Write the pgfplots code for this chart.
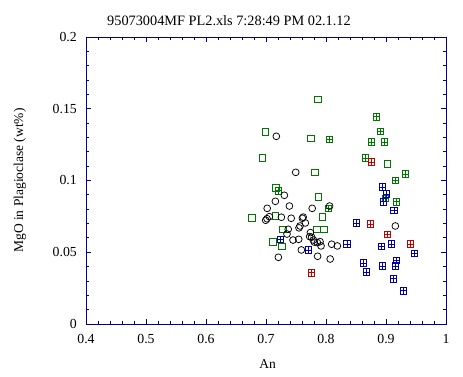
\documentclass[border=0pt]{standalone}
\usepackage{fontspec}
\setmainfont{Liberation Serif}
\usepackage{pgfplots}
\pgfplotsset{compat=1.18}
\definecolor{axblue}{RGB}{0,0,140}
\definecolor{mgreen}{RGB}{0,120,0}
\definecolor{mred}{RGB}{190,0,0}
\definecolor{mblue}{RGB}{0,0,170}
\pgfdeclareplotmark{boxplus}{%
  \pgfpathrectangle{\pgfqpoint{-\pgfplotmarksize}{-\pgfplotmarksize}}{\pgfqpoint{2\pgfplotmarksize}{2\pgfplotmarksize}}%
  \pgfpathmoveto{\pgfqpoint{-\pgfplotmarksize}{0pt}}\pgfpathlineto{\pgfqpoint{\pgfplotmarksize}{0pt}}%
  \pgfpathmoveto{\pgfqpoint{0pt}{-\pgfplotmarksize}}\pgfpathlineto{\pgfqpoint{0pt}{\pgfplotmarksize}}%
  \pgfusepathqstroke}
\begin{document}
\fontsize{13.5bp}{16bp}\selectfont
\begin{tikzpicture}
\begin{axis}[
  at={(0,0)}, anchor=south west,
  scale only axis, width=360bp, height=287bp,
  xmin=0.4, xmax=1, ymin=0, ymax=0.2,
  xtick={0.4,0.5,0.6,0.7,0.8,0.9,1},
  xticklabels={0.4,0.5,0.6,0.7,0.8,0.9,1},
  ytick={0,0.05,0.1,0.15,0.2},
  yticklabels={0,0.05,0.1,0.15,0.2},
  minor x tick num=4, minor y tick num=4,
  tick align=inside,
  major tick length=5bp, minor tick length=3bp,
  axis line style={axblue, line width=0.8bp},
  every tick/.style={axblue, line width=0.8bp},
  xtick pos=both, ytick pos=both,
  xticklabel pos=lower, yticklabel pos=left,
  /pgf/number format/assume math mode=true,
  xticklabel style={anchor=base, yshift=-19bp, font=\fontsize{13.8bp}{16bp}\selectfont},
  yticklabel style={anchor=east, xshift=-4.5bp, font=\fontsize{13.8bp}{16bp}\selectfont},
  clip=false,
]
\addplot[only marks, mark=square, mark size=3.4bp, mgreen, line width=0.75bp] coordinates {
(0.787,0.1566) (0.699,0.134) (0.775,0.1294) (0.694,0.1155) (0.782,0.1057)
(0.717,0.0948) (0.7872,0.0885) (0.677,0.0737) (0.7156,0.0753) (0.794,0.0744)
(0.7278,0.066) (0.7844,0.066) (0.797,0.066) (0.712,0.0571) (0.727,0.0541)
(0.9022,0.1115)
};
\addplot[only marks, mark=boxplus, mark size=3.4bp, mgreen, line width=0.75bp] coordinates {
(0.8055,0.1287) (0.7205,0.0929) (0.804,0.0806) (0.8839,0.1446) (0.8906,0.1343)
(0.8756,0.1268) (0.8972,0.1268) (0.8656,0.1155) (0.9322,0.1045) (0.9156,0.1001)
(0.8989,0.0876) (0.9172,0.0853)
};
\addplot[only marks, mark=boxplus, mark size=3.4bp, mred, line width=0.75bp] coordinates {
(0.7756,0.0358) (0.8756,0.1127) (0.8739,0.0695) (0.9022,0.0625) (0.9406,0.0557)
};
\addplot[only marks, mark=boxplus, mark size=3.4bp, mblue, line width=0.75bp] coordinates {
(0.7239,0.059) (0.7706,0.0516) (0.835,0.0557) (0.8939,0.0953) (0.9006,0.0906)
(0.8956,0.0853) (0.9133,0.0792) (0.8506,0.0702) (0.8922,0.0541) (0.9089,0.0557)
(0.9472,0.0492) (0.9172,0.0443) (0.8622,0.0425) (0.8939,0.0404) (0.9156,0.0404)
(0.8672,0.0362) (0.9122,0.0317) (0.9289,0.0233)
};
\addplot[only marks, mark=o, mark size=3.4bp, black, line width=0.75bp] coordinates {
(0.7172,0.1308) (0.7495,0.1057) (0.7306,0.0897) (0.7156,0.0855) (0.739,0.0822)
(0.806,0.0822) (0.702,0.0806) (0.777,0.0806) (0.7056,0.0748) (0.7256,0.0744)
(0.6995,0.0723) (0.7017,0.0734) (0.742,0.0737) (0.7606,0.0737) (0.762,0.0745)
(0.7656,0.0704) (0.7567,0.0683) (0.755,0.067) (0.737,0.066) (0.735,0.0627)
(0.774,0.0637) (0.7728,0.0609) (0.776,0.0605) (0.779,0.0585) (0.7805,0.0571)
(0.7856,0.0567) (0.79,0.0574) (0.7917,0.0544) (0.745,0.0585) (0.7545,0.059)
(0.7589,0.0516) (0.8094,0.0556) (0.8189,0.0544) (0.7206,0.0465) (0.786,0.0472)
(0.807,0.0453) (0.9156,0.0683)
};
\end{axis}
\node[anchor=base, font=\fontsize{14.3bp}{16bp}\selectfont] at (143bp,298bp) {95073004MF PL2.xls 7:28:49 PM 02.1.12};
\node[anchor=base] at (181.5bp,-44bp) {An};
\node[rotate=90, anchor=center] at (-66bp,143.5bp) {MgO in Plagioclase (wt\%)};
\pgfresetboundingbox
\path (-86bp,-53bp) rectangle (377bp,324bp);
\end{tikzpicture}
\end{document}
